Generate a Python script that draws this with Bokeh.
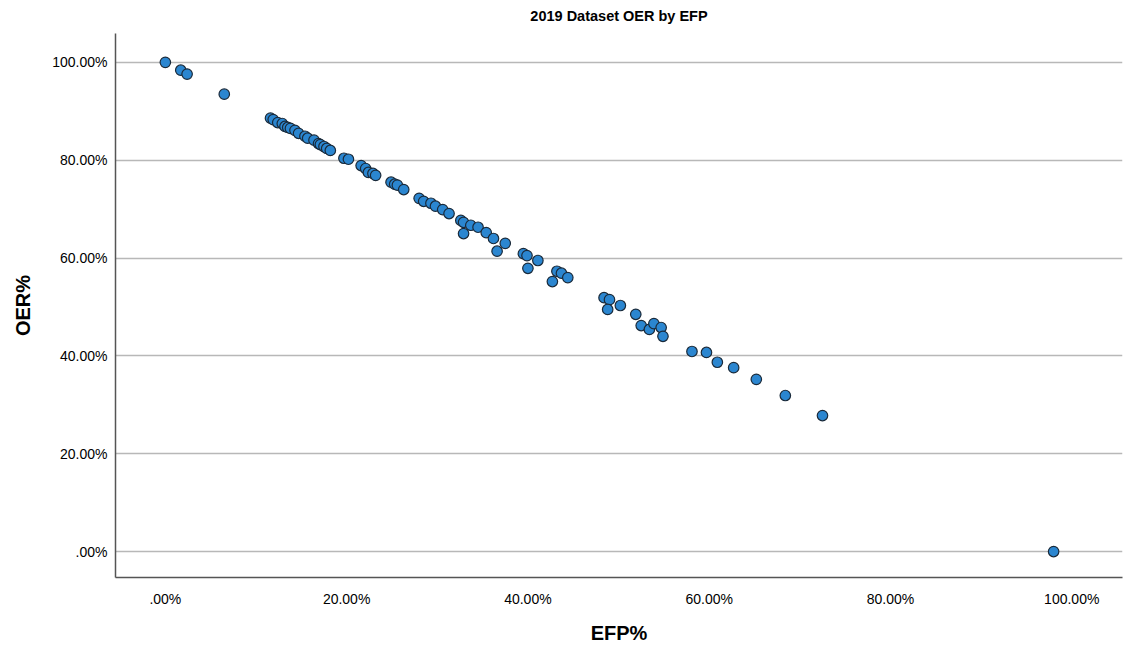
from bokeh.plotting import figure
from bokeh.models import Range1d, FixedTicker, ColumnDataSource
from bokeh.embed import file_html
from bokeh.resources import INLINE

# Data (percent values)
efp = [0.0, 1.7, 2.4, 6.5, 11.6, 11.9, 12.4, 12.9, 13.2, 13.5, 13.8, 14.3, 14.7,
       15.4, 15.7, 16.4, 16.9, 17.1, 17.5, 17.8, 18.2, 19.7, 20.2, 21.6, 22.1,
       22.4, 22.9, 23.2, 24.9, 25.3, 25.6, 26.3, 28.0, 28.5, 29.3, 29.8, 30.6,
       31.3, 32.6, 32.9, 33.7, 32.9, 34.5, 35.4, 36.2, 37.5, 36.6, 39.5, 39.9,
       41.1, 40.0, 43.2, 43.7, 44.4, 42.7, 48.4, 49.0, 48.8, 50.2, 51.9, 52.5,
       53.4, 53.9, 54.7, 54.9, 58.1, 59.7, 60.9, 62.7, 65.2, 68.4, 72.5, 98.0]
oer = [100.0, 98.4, 97.6, 93.5, 88.6, 88.3, 87.7, 87.5, 86.9, 86.7, 86.5, 86.1,
       85.5, 84.9, 84.5, 84.1, 83.4, 83.2, 82.8, 82.4, 82.0, 80.4, 80.2, 78.9,
       78.3, 77.5, 77.3, 76.9, 75.5, 75.1, 74.9, 74.0, 72.2, 71.6, 71.2, 70.6,
       69.9, 69.1, 67.7, 67.3, 66.7, 65.0, 66.3, 65.2, 64.0, 63.0, 61.4, 60.9,
       60.5, 59.5, 57.9, 57.3, 56.9, 56.0, 55.2, 51.9, 51.5, 49.5, 50.3, 48.5,
       46.2, 45.4, 46.6, 45.8, 44.0, 40.9, 40.7, 38.7, 37.6, 35.2, 31.9, 27.8, 0.0]
ticks = [0, 20, 40, 60, 80, 100]
tick_labels = [".00%", "20.00%", "40.00%", "60.00%", "80.00%", "100.00%"]

src = ColumnDataSource(dict(x=efp, y=oer))

p = figure(width=1124, height=646, output_backend="svg", toolbar_location=None,
           x_range=Range1d(-5.5, 105.6), y_range=Range1d(-5.3, 105.9),
           title="2019 Dataset OER by EFP",
           min_border_left=115, min_border_right=2, min_border_top=33,
           min_border_bottom=69)
p.outline_line_color = None
p.background_fill_color = "white"
p.border_fill_color = "white"

p.title.align = "center"
p.title.vertical_align = "top"
p.title.text_font = "Liberation Sans"
p.title.text_font_size = "14.5px"
p.title.text_font_style = "bold"
p.title.text_color = "#000000"
p.title.standoff = 15

p.xgrid.grid_line_color = None
p.ygrid.grid_line_color = "#b8b8b8"
p.ygrid.grid_line_width = 1.5

labels = {t: l for t, l in zip(ticks, tick_labels)}
for ax in (p.xaxis[0], p.yaxis[0]):
    ax.ticker = FixedTicker(ticks=ticks)
    ax.major_label_overrides = labels
    ax.major_tick_line_color = None
    ax.minor_tick_line_color = None
    ax.major_tick_out = 0
    ax.major_tick_in = 0
    ax.minor_tick_out = 0
    ax.axis_line_color = "#555555"
    ax.axis_line_width = 1.5
    ax.major_label_text_font = "Liberation Sans"
    ax.major_label_text_font_size = "14px"
    ax.major_label_text_color = "#000000"
    ax.axis_label_text_font = "Liberation Sans"
    ax.axis_label_text_font_size = "20px"
    ax.axis_label_text_font_style = "bold"
    ax.axis_label_text_color = "#000000"

p.xaxis.axis_label = "EFP%"
p.yaxis.axis_label = "OER%"
p.xaxis.major_label_standoff = 13
p.yaxis.major_label_standoff = 8
p.xaxis.axis_label_standoff = 12
p.yaxis.axis_label_standoff = 15

p.scatter("x", "y", source=src, size=10.5, fill_color="#2b86d0",
          line_color="#1a2a3a", line_width=1.2)

open("out.html", "w").write(file_html(p, INLINE))
